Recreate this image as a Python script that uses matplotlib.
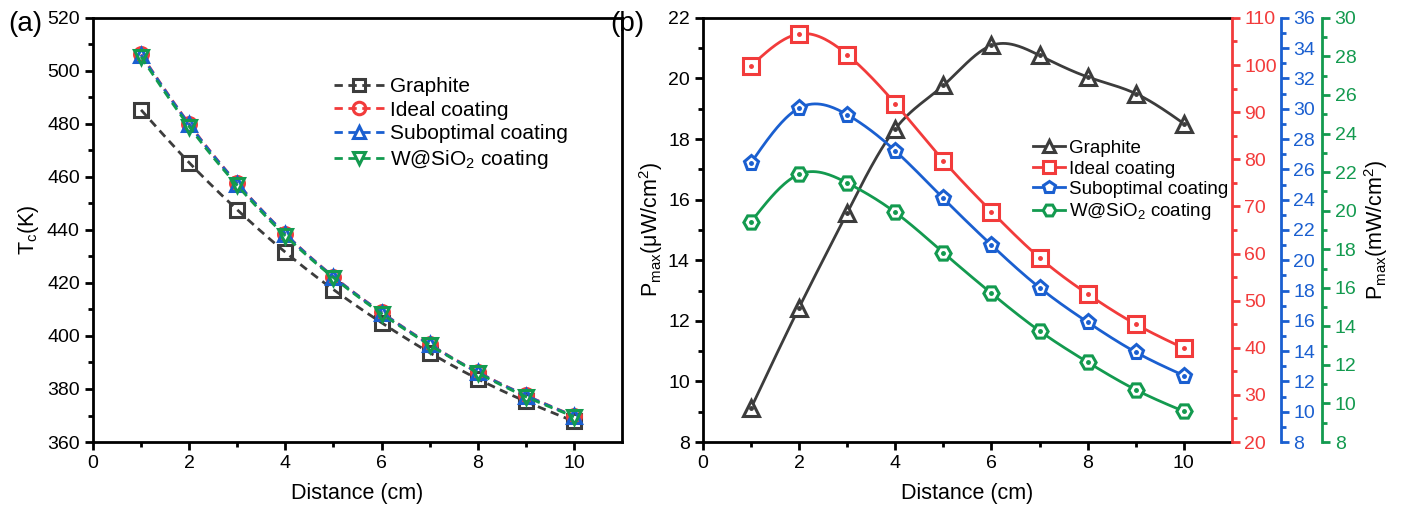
import numpy as np
import matplotlib.pyplot as plt

plt.rcParams['font.family'] = ['Liberation Sans', 'DejaVu Sans']
plt.rcParams['mathtext.fontset'] = 'custom'
plt.rcParams['mathtext.rm'] = 'Liberation Sans'
plt.rcParams['mathtext.it'] = 'Liberation Sans'

# ── data ─────────────────────────────────────────────────────────────────────
distance = [1, 2, 3, 4, 5, 6, 7, 8, 9, 10]

# panel (a): Tc (K)
tc_graphite   = [485.3, 465.4, 447.6, 431.6, 417.5, 405.0, 393.7, 383.8, 375.3, 367.8]
tc_ideal      = [506.2, 480.0, 457.6, 438.5, 422.4, 408.9, 396.9, 386.4, 377.6, 369.8]
tc_suboptimal = [506.0, 479.8, 457.5, 438.4, 422.3, 408.8, 396.8, 386.3, 377.5, 369.7]
tc_wsio2      = [505.3, 479.0, 456.8, 437.8, 422.0, 408.4, 396.6, 386.1, 377.1, 369.6]

# panel (b): Pmax
pm_graphite   = [9.12, 12.44, 15.57, 18.34, 19.77, 21.09, 20.76, 20.05, 19.50, 18.51]   # uW/cm2
pm_ideal      = [99.8, 106.6, 102.2, 91.8, 79.7, 68.9, 59.1, 51.4, 45.0, 39.9]           # mW/cm2
pm_suboptimal = [26.43, 30.05, 29.61, 27.22, 24.08, 21.00, 18.19, 15.91, 13.93, 12.39]   # mW/cm2
pm_wsio2      = [19.42, 21.89, 21.44, 19.91, 17.82, 15.71, 13.76, 12.14, 10.71, 9.59]    # mW/cm2

labels = ['Graphite', 'Ideal coating', 'Suboptimal coating', r'W@SiO$_2$ coating']

c_gray, c_red, c_blue, c_green = '#3c3c3c', '#f23b3b', '#1a5fd0', '#139a4f'


def smooth(x, y, n=300):
    # natural cubic spline through the points, only used to draw the connecting line
    x = np.asarray(x, float)
    y = np.asarray(y, float)
    h = np.diff(x)
    m = len(x)
    A = np.zeros((m, m))
    r = np.zeros(m)
    A[0, 0] = A[-1, -1] = 1
    for i in range(1, m - 1):
        A[i, i - 1] = h[i - 1]
        A[i, i] = 2 * (h[i - 1] + h[i])
        A[i, i + 1] = h[i]
        r[i] = 3 * ((y[i + 1] - y[i]) / h[i] - (y[i] - y[i - 1]) / h[i - 1])
    c = np.linalg.solve(A, r)
    b = (y[1:] - y[:-1]) / h - h * (2 * c[:-1] + c[1:]) / 3
    d = (c[1:] - c[:-1]) / (3 * h)
    xs = np.linspace(x[0], x[-1], n)
    k = np.clip(np.searchsorted(x, xs) - 1, 0, m - 2)
    dx = xs - x[k]
    ys = y[k] + b[k] * dx + c[k] * dx ** 2 + d[k] * dx ** 3
    return xs, ys


fig = plt.figure(figsize=(14.02, 5.11), dpi=100)
ax1 = fig.add_axes([0.0663, 0.135, 0.3774, 0.830])
ax2 = fig.add_axes([0.5014, 0.135, 0.3773, 0.830])

# ── panel (a) ────────────────────────────────────────────────────────────────
dash = (0, (3, 2))
series_a = [(tc_graphite, c_gray, 's'), (tc_ideal, c_red, 'o'),
            (tc_suboptimal, c_blue, '^'), (tc_wsio2, c_green, 'v')]
handles = []
for (vals, col, mk), lab in zip(series_a, labels):
    xs, ys = smooth(distance, vals)
    ax1.plot(xs, ys, color=col, lw=2, linestyle=dash)
    ax1.plot(distance, vals, linestyle='none', marker=mk, ms=10, mfc='none',
             mec=col, mew=2.2)
    h, = ax1.plot([], [], color=col, lw=2, linestyle=dash, marker=mk, ms=9,
                  mfc='none', mec=col, mew=2.2)
    handles.append(h)

ax1.set_xlim(0, 11)
ax1.set_ylim(360, 520)
ax1.set_xticks([0, 2, 4, 6, 8, 10])
ax1.set_xticks(np.arange(1, 11, 2), minor=True)
ax1.set_yticks(np.arange(360, 521, 20))
ax1.set_yticks(np.arange(370, 520, 20), minor=True)
ax1.set_xlabel('Distance (cm)', fontsize=15.5, labelpad=8)
ax1.set_ylabel(r'T$_\mathregular{c}$(K)', fontsize=15.5)
ax1.legend(handles, labels, loc='upper left', bbox_to_anchor=(0.44, 0.88),
           frameon=False, fontsize=15, handlelength=2.4, labelspacing=0.22,
           handletextpad=0.3, borderaxespad=0)
ax1.text(-0.16, 0.985, '(a)', transform=ax1.transAxes, fontsize=20, va='center')

# ── panel (b) ────────────────────────────────────────────────────────────────
ax_r = ax2.twinx()
ax_b = ax2.twinx()
ax_g = ax2.twinx()
ax_b.spines['right'].set_position(('outward', 35))
ax_g.spines['right'].set_position(('outward', 65))

series_b = [(ax2, pm_graphite, c_gray, '^', (8, 22)),
            (ax_r, pm_ideal, c_red, 's', (20, 110)),
            (ax_b, pm_suboptimal, c_blue, 'p', (8, 36)),
            (ax_g, pm_wsio2, c_green, 'H', (8, 30))]
handles = []
for (ax, vals, col, mk, lim), lab in zip(series_b, labels):
    xs, ys = smooth(distance, vals)
    ax.plot(xs, ys, color=col, lw=2)
    ax.plot(distance, vals, linestyle='none', marker=mk, ms=11, mfc='white',
            mec=col, mew=2.2)
    ax.plot(distance, vals, linestyle='none', marker='o', ms=2.5, color=col)
    ax.set_ylim(*lim)
    h, = ax2.plot([], [], color=col, lw=2, marker=mk, ms=9, mfc='white',
                  mec=col, mew=2.2)
    handles.append(h)

ax2.set_xlim(0, 11)
ax2.set_xticks([0, 2, 4, 6, 8, 10])
ax2.set_xticks(np.arange(1, 11, 2), minor=True)
ax2.set_yticks(np.arange(8, 23, 2))
ax2.set_yticks(np.arange(9, 22, 2), minor=True)
ax2.set_xlabel('Distance (cm)', fontsize=15.5, labelpad=8)
ax2.set_ylabel(r'P$_\mathregular{max}$(μW/cm$^\mathregular{2}$)', fontsize=15.5, labelpad=2)
ax2.legend(handles, labels, loc='upper left', bbox_to_anchor=(0.61, 0.73),
           frameon=False, fontsize=13.5, handlelength=1.7, labelspacing=0.18,
           handletextpad=0.2, borderaxespad=0)
ax2.text(-0.175, 0.985, '(b)', transform=ax2.transAxes, fontsize=20, va='center')

ax_r.set_yticks(np.arange(20, 111, 10))
ax_r.set_yticks(np.arange(25, 110, 10), minor=True)
ax_b.set_yticks(np.arange(8, 37, 2))
ax_b.set_yticks(np.arange(9, 36, 2), minor=True)
ax_g.set_yticks(np.arange(8, 31, 2))
ax_g.set_yticks(np.arange(9, 30, 2), minor=True)

for ax, col in [(ax_r, c_red), (ax_b, c_blue), (ax_g, c_green)]:
    for s in ['left', 'top', 'bottom']:
        ax.spines[s].set_visible(False)
    ax.spines['right'].set_color(col)
    ax.spines['right'].set_linewidth(2)
    ax.tick_params(axis='y', which='both', colors=col, width=2, labelsize=14, pad=3)
    ax.tick_params(axis='y', which='major', length=6)
    ax.tick_params(axis='y', which='minor', length=3.5)
ax_g.set_ylabel(r'P$_\mathregular{max}$(mW/cm$^\mathregular{2}$)', fontsize=15.5, labelpad=4)

for ax in [ax1, ax2]:
    for s in ax.spines.values():
        s.set_linewidth(2)
    ax.tick_params(which='both', width=2, labelsize=14)
    ax.tick_params(which='major', length=6)
    ax.tick_params(which='minor', length=3.5)
    ax.tick_params(axis='y', right=False)
ax2.spines['right'].set_visible(False)

fig.savefig('out.png', dpi=100)
